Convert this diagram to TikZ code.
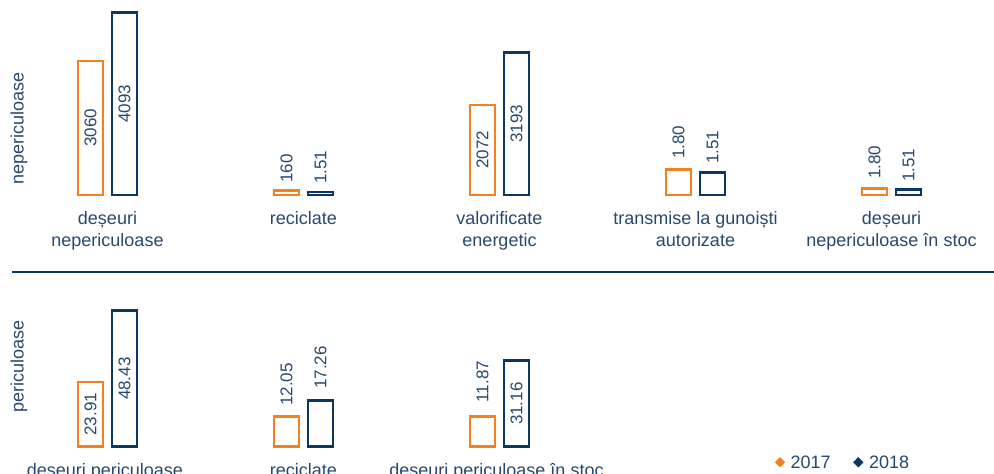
\documentclass[tikz,border=0pt]{standalone}
\usepackage{fontspec}
\setmainfont{Liberation Sans}
\usepackage{tikz}
\usetikzlibrary{positioning,shapes.geometric}
\definecolor{orangec}{RGB}{245,128,32}
\definecolor{navyc}{RGB}{12,55,98}
\definecolor{textc}{RGB}{40,72,110}
\newcommand{\catfont}{\fontsize{18}{22}\selectfont}
\newcommand{\valfont}{\fontsize{17}{20}\selectfont}

\begin{document}
\begin{tikzpicture}[x = 1pt, y = -1pt,
  bar/.style = {line width = 2.6pt, inner sep = 0pt, anchor = south, minimum width = 25pt},
  obar/.style = {bar, draw = orangec},
  nbar/.style = {bar, draw = navyc},
  val/.style = {text = textc, font = \valfont, rotate = 90, inner sep = 0pt},
  up/.style = {val, anchor = west},
  side/.style = {val, font = \catfont},
  cat/.style = {text = textc, font = \catfont, align = center, inner sep = 0pt, anchor = north},
  mark17/.style = {diamond, fill = orangec, minimum size = 10.5pt, inner sep = 0pt},
  mark18/.style = {diamond, fill = navyc, minimum size = 10.5pt, inner sep = 0pt},
  legtxt/.style = {text = textc, font = \catfont, inner sep = 0pt}]
\useasboundingbox (0,0) rectangle (994,474);

\node [side] (nep) at (19, 128) {nepericuloase};
\node [side] (per) at (19, 366) {periculoase};

\node [obar, minimum height = 133.9pt] (tdes17) at (90.5, 196.2) {};
\node [nbar, minimum height = 182.2pt] (tdes18) at (124.5, 196.2) {};
\node [val] (vtdes17) at (tdes17.center) {3060};
\node [val] (vtdes18) at (tdes18.center) {4093};
\node [cat] (tdes) at (107.5, 211.5) {deșeuri\\nepericuloase};

\node [obar, minimum height = 4.7pt] (trec17) at (286.5, 196.2) {};
\node [nbar, minimum height = 3pt] (trec18) at (320.5, 196.2) {};
\node [up] (vtrec17) at ([yshift = 6pt] trec17.north) {160};
\node [up] (vtrec18) at ([yshift = 6.5pt] trec18.north) {1.51};
\node [cat] (trec) at (303.5, 211.5) {reciclate};

\node [obar, minimum height = 89.9pt] (tval17) at (482.5, 196.2) {};
\node [nbar, minimum height = 142.2pt] (tval18) at (516.5, 196.2) {};
\node [val] (vtval17) at (tval17.center) {2072};
\node [val] (vtval18) at (tval18.center) {3193};
\node [cat] (tval) at (499.5, 211.5) {valorificate\\energetic};

\node [obar, minimum height = 25.6pt] (ttra17) at (678.5, 196.2) {};
\node [nbar, minimum height = 22.6pt] (ttra18) at (712.5, 196.2) {};
\node [up] (vttra17) at ([yshift = 9pt] ttra17.north) {1.80};
\node [up] (vttra18) at ([yshift = 7pt] ttra18.north) {1.51};
\node [cat] (ttra) at (695.5, 211.5) {transmise la gunoiști\\autorizate};

\node [obar, minimum height = 6.6pt] (tsto17) at (874.5, 196.2) {};
\node [nbar, minimum height = 5.6pt] (tsto18) at (908.5, 196.2) {};
\node [up] (vtsto17) at ([yshift = 8pt] tsto17.north) {1.80};
\node [up] (vtsto18) at ([yshift = 6pt] tsto18.north) {1.51};
\node [cat] (tsto) at (891.5, 211.5) {deșeuri\\nepericuloase în stoc};

\coordinate (sepw) at (12, 272);
\coordinate (sepe) at (994, 272);
\draw [navyc, line width = 1.5pt] (sepw) -- (sepe);

\node [obar, minimum height = 64.7pt] (bdes17) at (90.5, 448) {};
\node [nbar, minimum height = 136pt] (bdes18) at (124.5, 448) {};
\node [val] (vbdes17) at (bdes17.center) {23.91};
\node [val] (vbdes18) at (bdes18.center) {48.43};
\node [cat] (bdes) at (105, 463) {deșeuri periculoase};

\node [obar, minimum height = 30pt] (brec17) at (286.5, 448) {};
\node [nbar, minimum height = 46.4pt] (brec18) at (320.5, 448) {};
\node [up] (vbrec17) at ([yshift = 9.5pt] brec17.north) {12.05};
\node [up] (vbrec18) at ([yshift = 10pt] brec18.north) {17.26};
\node [cat] (brec) at (303.5, 463) {reciclate};

\node [obar, minimum height = 30pt] (bsto17) at (482.5, 448) {};
\node [nbar, minimum height = 86pt] (bsto18) at (516.5, 448) {};
\node [up] (vbsto17) at ([yshift = 13pt] bsto17.north) {11.87};
\node [val] (vbsto18) at (bsto18.center) {31.16};
\node [cat] (bsto) at (496.5, 463) {deșeuri periculoase în stoc};

\node [mark17] (l17m) at (780, 462.3) {};
\node [legtxt, right = 5pt of l17m] (l17) {2017};
\node [mark18, right = 22pt of l17] (l18m) {};
\node [legtxt, right = 5pt of l18m] (l18) {2018};
\end{tikzpicture}
\end{document}
